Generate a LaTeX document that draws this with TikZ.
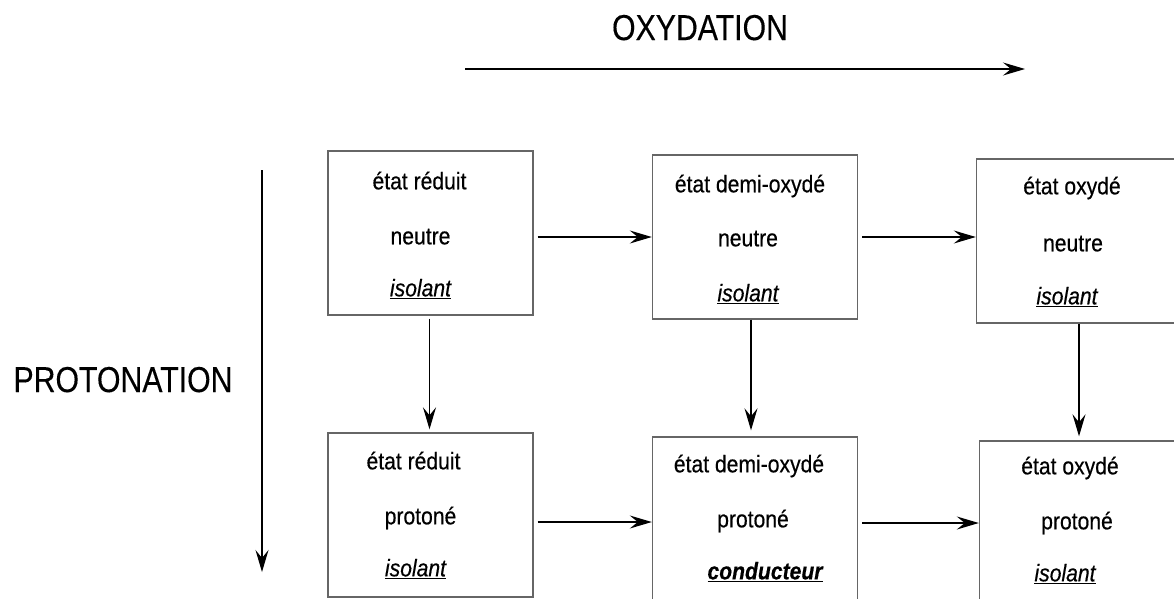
\documentclass[tikz,border=0pt]{standalone}
\usepackage{fontspec}
\setmainfont{Liberation Sans}
\usetikzlibrary{arrows.meta,calc}
\newcommand{\narrowtxt}[1]{\scalebox{0.88}[1]{#1}}
\newcommand{\narrowhead}[1]{\scalebox{0.84}[1]{#1}}
\tikzset{
  statebox/.style={draw=black!60, line width=1.4pt, minimum width=205pt, minimum height=164pt, inner sep=0pt},
  line1/.style={anchor=base, font=\fontsize{24}{28}\selectfont\addfontfeature{FakeBold=0.5}, inner sep=0pt},
  heading/.style={anchor=base, font=\fontsize{36}{40}\selectfont\addfontfeature{FakeBold=0.3}, inner sep=0pt},
  conn/.style={draw=black, line width=1.2pt, -{Stealth[length=22pt,width=13pt,inset=8pt]}},
}
\begin{document}
\begin{tikzpicture}[x=1pt,y=-1pt]
\clip (0,0) rectangle (1174,598);
\fill[white] (0,0) rectangle (1174,598);
% boxes
\node[statebox] (A) at (430.5,233) {};
\node[statebox] (B) at (755,237) {};
\node[statebox] (C) at (1079,241) {};
\node[statebox] (D) at (430.5,515) {};
\node[statebox] (E) at (755,519) {};
\node[statebox] (F) at (1082,523) {};
% texts A
\node[line1] (a1) at ($(A.north)+(-11,39)$) {\narrowtxt{état réduit}};
\node[line1] (a2) at ($(A.north)+(-10,94)$) {\narrowtxt{neutre}};
\node[line1] (a3) at ($(A.north)+(-10,146)$) {\narrowtxt{\underline{\itshape isolant}}};
% texts B
\node[line1] (b1) at ($(B.north)+(-5,38)$) {\narrowtxt{état demi-oxydé}};
\node[line1] (b2) at ($(B.north)+(-7,92)$) {\narrowtxt{neutre}};
\node[line1] (b3) at ($(B.north)+(-7,147)$) {\narrowtxt{\underline{\itshape isolant}}};
% texts C
\node[line1] (c1) at ($(C.north)+(-7,36)$) {\narrowtxt{état oxydé}};
\node[line1] (c2) at ($(C.north)+(-6,93)$) {\narrowtxt{neutre}};
\node[line1] (c3) at ($(C.north)+(-12,146)$) {\narrowtxt{\underline{\itshape isolant}}};
% texts D
\node[line1] (d1) at ($(D.north)+(-17,37)$) {\narrowtxt{état réduit}};
\node[line1] (d2) at ($(D.north)+(-10,92)$) {\narrowtxt{protoné}};
\node[line1] (d3) at ($(D.north)+(-15,144)$) {\narrowtxt{\underline{\itshape isolant}}};
% texts E
\node[line1] (e1) at ($(E.north)+(-6,36)$) {\narrowtxt{état demi-oxydé}};
\node[line1] (e2) at ($(E.north)+(-2,91)$) {\narrowtxt{protoné}};
\node[line1] (e3) at ($(E.north)+(10,143)$) {\narrowtxt{\underline{\bfseries\itshape conducteur}}};
% texts F
\node[line1] (f1) at ($(F.north)+(-12,34)$) {\narrowtxt{état oxydé}};
\node[line1] (f2) at ($(F.north)+(-5,89)$) {\narrowtxt{protoné}};
\node[line1] (f3) at ($(F.north)+(-17,141)$) {\narrowtxt{\underline{\itshape isolant}}};
% headings
\node[heading] (ox) at (700,40) {\narrowhead{OXYDATION}};
\node[heading] (pr) at (123,392) {\narrowhead{PROTONATION}};
\coordinate (oxs) at (465,69);
\coordinate (oxe) at (1025,69);
\coordinate (prs) at (262,170);
\coordinate (pre) at (262,572);
\draw[conn] (oxs) -- (oxe);
\draw[conn] (prs) -- (pre);
% horizontal connectors
\draw[conn] ($(A.east)+(4,4)$) -- (B.west);
\draw[conn] ($(B.east)+(4,0)$) -- (B.east -| C.west);
\draw[conn] ($(D.east)+(4,7)$) -- ($(E.west)+(0,3)$);
\draw[conn] ($(E.east)+(4,4)$) -- (F.west);
% vertical connectors
\draw[conn] ($(A.south)+(-1,3)$) -- ($(A.south |- D.north)+(-1,-3)$);
\draw[conn] ($(B.south)+(-4,0)$) -- ($(B.south |- E.north)+(-4,-6)$);
\draw[conn] ($(C.south)+(0,0)$) -- ($(C.south |- F.north)+(0,-4)$);
\end{tikzpicture}
\end{document}
